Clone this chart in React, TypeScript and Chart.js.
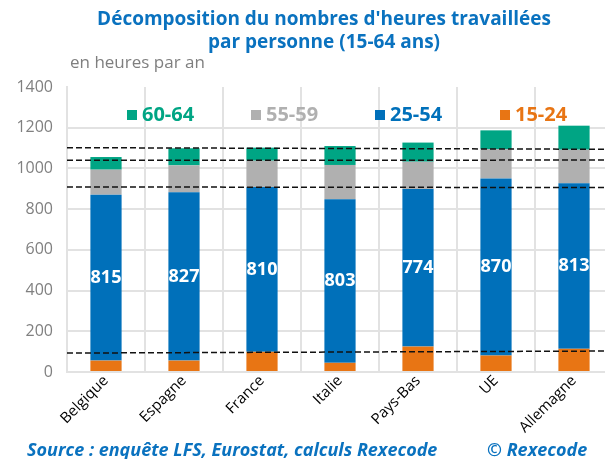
import React, { useEffect, useRef } from "react";
import { Chart, registerables } from "chart.js";

Chart.register(...registerables);

const categories = ["Belgique", "Espagne", "France", "Italie", "Pays-Bas", "UE", "Allemagne"];
const series1524 = [56, 56, 99, 45, 125, 81, 114];
const series2554 = [815, 827, 810, 803, 774, 870, 813];
const series5559 = [123, 132, 129, 169, 134, 144, 165];
const series6064 = [62, 84, 64, 93, 94, 92, 118];
const refLines = [
  [1102, 1094],
  [1040, 1041],
  [909, 906],
  [93, 103],
];
const yTicks = [0, 200, 400, 600, 800, 1000, 1200, 1400];

const COLORS = {
  teal: "#00A584",
  gray: "#B0B0B0",
  blue: "#0070BA",
  orange: "#E87514",
  title: "#0A72BF",
};

const FONT = "'Open Sans', 'Noto Sans', sans-serif";

const decorPlugin = {
  id: "decor",
  afterDatasetsDraw(chart: any) {
    const ctx = chart.ctx;
    const meta = chart.getDatasetMeta(1);
    ctx.save();
    ctx.fillStyle = "#ffffff";
    ctx.font = `bold 18px ${FONT}`;
    ctx.textAlign = "center";
    ctx.textBaseline = "middle";
    meta.data.forEach((el: any, i: number) => {
      const p = el.getProps(["x", "y", "base"], true);
      ctx.fillText(String(series2554[i]), p.x, (p.y + p.base) / 2);
    });
    ctx.restore();
  },
  afterDraw(chart: any) {
    const ctx = chart.ctx;
    ctx.save();
    ctx.fillStyle = COLORS.title;
    ctx.font = `bold 19px ${FONT}`;
    ctx.textAlign = "center";
    ctx.textBaseline = "middle";
    ctx.fillText("Décomposition du nombres d'heures travaillées", 324, 20);
    ctx.fillText("par personne (15-64 ans)", 324, 43);
    ctx.fillStyle = "#7f7f7f";
    ctx.font = `17px ${FONT}`;
    ctx.textAlign = "left";
    ctx.fillText("en heures par an", 70, 63);
    const items = [
      { t: "60-64", c: COLORS.teal, x: 127 },
      { t: "55-59", c: COLORS.gray, x: 251 },
      { t: "25-54", c: COLORS.blue, x: 375 },
      { t: "15-24", c: COLORS.orange, x: 500 },
    ];
    ctx.font = `bold 20px ${FONT}`;
    items.forEach((it) => {
      ctx.fillStyle = it.c;
      ctx.fillRect(it.x, 110, 10, 10);
      ctx.fillText(it.t, it.x + 15, 115);
    });
    ctx.fillStyle = COLORS.title;
    ctx.font = `italic bold 18px ${FONT}`;
    ctx.fillText("Source : enquête LFS, Eurostat, calculs Rexecode", 27, 451);
    ctx.fillText("© Rexecode", 487, 451);
    ctx.restore();
  },
};

export default function App() {
  const ref = useRef<HTMLCanvasElement>(null);
  useEffect(() => {
    if (!ref.current) return;
    const dash = (vals: number[]) => ({
      type: "line" as const,
      data: [
        { x: 0, y: vals[0] },
        { x: 1, y: vals[1] },
      ],
      xAxisID: "xl",
      yAxisID: "yl",
      borderColor: "#111111",
      borderWidth: 1.5,
      borderDash: [6, 3],
      pointRadius: 0,
      order: 0,
    });
    const chart = new Chart(ref.current, {
      type: "bar",
      data: {
        labels: categories,
        datasets: [
          { label: "15-24", data: series1524, backgroundColor: COLORS.orange, order: 1, grouped: false },
          { label: "25-54", data: series2554, backgroundColor: COLORS.blue, order: 1, grouped: false },
          { label: "55-59", data: series5559, backgroundColor: COLORS.gray, order: 1, grouped: false },
          { label: "60-64", data: series6064, backgroundColor: COLORS.teal, order: 1, grouped: false },
          ...refLines.map(dash),
        ] as any,
      },
      options: {
        animation: false,
        responsive: false,
        layout: { padding: { top: 87, left: 0, right: 12, bottom: 0 } },
        datasets: { bar: { categoryPercentage: 1, barPercentage: 0.4 } },
        plugins: { legend: { display: false }, tooltip: { enabled: false }, title: { display: false } },
        scales: {
          x: {
            stacked: true,
            grid: { color: "#e2e2e2", lineWidth: 2, drawTicks: false, offset: true },
            border: { color: "#e2e2e2", width: 2 },
            ticks: {
              color: "#000000",
              font: { family: FONT, size: 15 },
              minRotation: 45,
              maxRotation: 45,
              padding: 0,
              autoSkip: false,
            },
            afterFit: (s: any) => {
              s.height = 87;
            },
          },
          y: {
            stacked: true,
            min: 0,
            max: 1400,
            afterBuildTicks: (s: any) => {
              s.ticks = yTicks.map((v) => ({ value: v }));
            },
            grid: {
              color: (c: any) => (c.tick && c.tick.value === 1400 ? "rgba(0,0,0,0)" : "#e2e2e2"),
              lineWidth: 2,
              drawTicks: false,
            },
            border: { color: "#e2e2e2", width: 2 },
            ticks: {
              color: "#808080",
              font: { family: FONT, size: 16 },
              padding: 14,
              callback: (v: any) => String(v),
            },
            afterFit: (s: any) => {
              s.width = 67;
            },
          },
          xl: { type: "linear", display: false, min: 0, max: 1, offset: false, grid: { offset: false } },
          yl: { type: "linear", display: false, min: 0, max: 1400 },
        },
      } as any,
      plugins: [decorPlugin],
    });
    return () => chart.destroy();
  }, []);
  return (
    <div
      style={{
        position: "fixed",
        left: 0,
        top: 0,
        width: 605,
        height: 459,
        overflow: "hidden",
        background: "#ffffff",
      }}
    >
      <canvas ref={ref} width={625} height={459} style={{ display: "block" }} />
    </div>
  );
}
